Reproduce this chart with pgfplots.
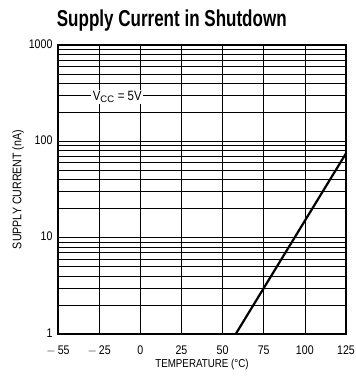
\documentclass[border=0pt]{standalone}
\usepackage{fontspec}
\setmainfont{Liberation Sans}
\newfontfamily\narrow{Liberation Sans}[FakeStretch=0.85]
\newfontfamily\narrowb{Liberation Sans}[FakeStretch=0.74,BoldFont={Liberation Sans Bold}]
\usepackage{pgfplots}
\pgfplotsset{compat=1.18}
\begin{document}
\begin{tikzpicture}[x=1pt,y=1pt]
\path[use as bounding box] (-58,-45) rectangle (297,334);
\begin{axis}[
  at={(0,0)}, anchor=south west,
  scale only axis, width=288pt, height=289pt,
  ymode=log, xmin=-50, xmax=125, ymin=1, ymax=1000,
  xtick={-50,-25,0,25,50,75,100,125},
  xticklabels={$-$\,55,$-$\,25,0,25,50,75,100,125},
  ytick={1,10,100,1000}, yticklabels={1,10,100,1000},
  /pgf/number format/assume math mode=true,
  tick label style={font=\fontsize{12.5}{14}\narrow},
  xticklabel style={yshift=-8pt},
  yticklabel style={xshift=-2pt, yshift=1pt},
  xmajorgrids, ymajorgrids, yminorgrids,
  major grid style={black, line width=0.6pt},
  minor grid style={black, line width=0.5pt},
  tick style={draw=none},
  axis line style={line width=1.5pt},
  xlabel={TEMPERATURE (°C)}, ylabel={SUPPLY CURRENT (nA)},
  label style={font=\fontsize{11.5}{13}\narrow},
  xlabel style={yshift=3pt},
  ylabel style={yshift=-2pt, font=\fontsize{12.5}{14}\narrow},
  title={\fontsize{23}{26}\narrowb\bfseries Supply Current in Shutdown},
  title style={at={(0.395,1)}, yshift=4pt},
]
\addplot[black, line width=2.2pt] coordinates {(58,1) (125,75)};
\node[fill=white, inner sep=1.5pt, font=\fontsize{13.5}{15}\narrow] at (axis cs:-14,290) {V$_{\mathrm{CC}}$ = 5V};
\end{axis}
\end{tikzpicture}
\end{document}
